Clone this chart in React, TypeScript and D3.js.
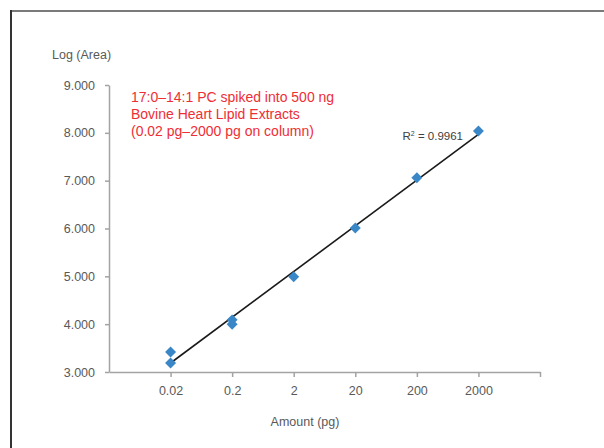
import React, { useEffect, useRef } from 'react';
import * as d3 from 'd3';

// tick labels on the amount axis (pg on column)
const amountLabels = ['0.02', '0.2', '2', '20', '200', '2000'];
const amountValues = [0.02, 0.2, 2, 20, 200, 2000];

// measured points (replicates share an amount)
const sampleAmount = [0.02, 0.02, 0.2, 0.2, 2, 20, 200, 2000];
const logArea = [3.42, 3.19, 4.09, 4.0, 4.99, 6.01, 7.06, 8.04];

const yTicks = [3, 4, 5, 6, 7, 8, 9];
const noteLines = [
    '17:0\u201314:1 PC spiked into 500 ng',
    'Bovine Heart Lipid Extracts',
    '(0.02 pg\u20132000 pg on column)',
];
const r2Label = '0.9961';

const App = () => {
    const svgRef = useRef<SVGSVGElement>(null);

    useEffect(() => {
        const svg = d3.select(svgRef.current);
        svg.selectAll('*').remove();

        const axisColor = '#a3a3a3';
        const textColor = '#595959';
        const font = '"Liberation Sans", Arial, sans-serif';

        // frame around the figure
        svg.append('line')
            .attr('x1', 10).attr('x2', 604).attr('y1', 11).attr('y2', 11)
            .attr('stroke', '#7a7a7a').attr('stroke-width', 2);
        svg.append('line')
            .attr('x1', 11).attr('x2', 11).attr('y1', 10).attr('y2', 448)
            .attr('stroke', '#333').attr('stroke-width', 2);

        // log amount axis, one empty decade on each end
        const x = d3.scaleLog().domain([0.002, 20000]).range([109, 540]);
        const y = d3.scaleLinear().domain([3, 9]).range([372, 85]);

        const points = sampleAmount.map((a, i) => ({ a, v: logArea[i] }));

        // y axis
        const yAxis = svg.append('g')
            .attr('transform', `translate(${x(0.002)},0)`)
            .call(d3.axisLeft(y).tickValues(yTicks).tickFormat(d3.format('.3f'))
                .tickSizeInner(4).tickSizeOuter(0).tickPadding(10));
        yAxis.select('.domain').attr('stroke', axisColor).attr('stroke-width', 1.5);
        yAxis.selectAll('line').attr('stroke', axisColor).attr('stroke-width', 1.5);
        yAxis.selectAll('text')
            .attr('fill', textColor).style('font-family', font).style('font-size', '12.5px');

        // x axis
        const xAxis = svg.append('g')
            .attr('transform', `translate(0,${y(3)})`)
            .call(d3.axisBottom(x).tickValues([...amountValues, 20000])
                .tickFormat((d, i) => amountLabels[i] ?? '')
                .tickSizeInner(5).tickSizeOuter(0).tickPadding(9));
        xAxis.select('.domain').attr('stroke', axisColor).attr('stroke-width', 1.5);
        xAxis.selectAll('line').attr('stroke', axisColor).attr('stroke-width', 1.5);
        xAxis.selectAll('text')
            .attr('fill', textColor).style('font-family', font).style('font-size', '12.5px');

        // axis titles
        svg.append('text')
            .attr('x', 52).attr('y', 59)
            .attr('fill', textColor).style('font-family', font).style('font-size', '12.5px')
            .text('Log (Area)');
        svg.append('text')
            .attr('x', 305).attr('y', 426).attr('text-anchor', 'middle')
            .attr('fill', textColor).style('font-family', font).style('font-size', '12.5px')
            .text('Amount (pg)');

        // linear fit of log area against log amount
        const lx = (a: number) => Math.log10(a);
        const mx = d3.mean(points, d => lx(d.a))!;
        const my = d3.mean(points, d => d.v)!;
        const slope = d3.sum(points, d => (lx(d.a) - mx) * (d.v - my)) / d3.sum(points, d => (lx(d.a) - mx) ** 2);
        const icpt = my - slope * mx;
        const ends = d3.extent(amountValues) as [number, number];

        svg.append('path')
            .datum(ends)
            .attr('d', d3.line<number>().x(d => x(d)).y(d => y(icpt + slope * lx(d))))
            .attr('stroke', '#1a1a1a').attr('stroke-width', 1.6).attr('fill', 'none');

        // diamonds
        svg.selectAll('.dot')
            .data(points)
            .enter().append('path')
            .attr('class', 'dot')
            .attr('d', d3.symbol().type(d3.symbolSquare).size(60))
            .attr('transform', d => `translate(${x(d.a)},${y(d.v)}) rotate(45)`)
            .attr('fill', '#3a87c7');

        // R squared label
        const r2 = svg.append('text')
            .attr('x', 463).attr('y', 140).attr('text-anchor', 'end')
            .attr('fill', '#404040').style('font-family', font).style('font-size', '11.5px');
        r2.append('tspan').text('R');
        r2.append('tspan').attr('dy', -4).style('font-size', '7px').text('2');
        r2.append('tspan').attr('dy', 4).text(` = ${r2Label}`);

        // red note
        svg.append('g').selectAll('text')
            .data(noteLines)
            .enter().append('text')
            .attr('x', 131)
            .attr('y', (d, i) => 102 + i * 17)
            .attr('fill', '#ee2e36')
            .style('font-family', font)
            .style('font-size', '14px')
            .text(d => d);
    }, []);

    return (
        <svg ref={svgRef} width={604} height={448}
            style={{ position: 'absolute', left: 0, top: 0, background: '#fff' }} />
    );
};

export default App;
